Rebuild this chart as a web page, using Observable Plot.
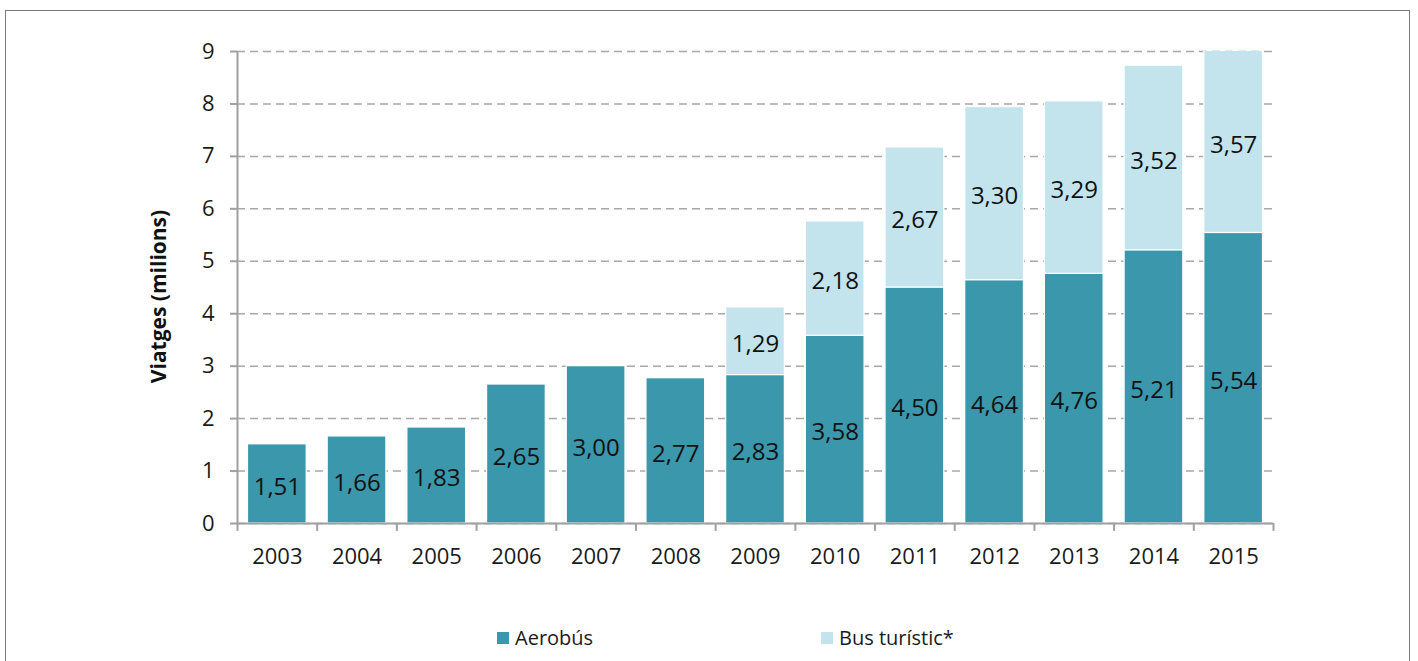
<!DOCTYPE html>
<html>
<head>
<meta charset="utf-8">
<script src="https://cdn.jsdelivr.net/npm/d3@7"></script>
<script src="https://cdn.jsdelivr.net/npm/@observablehq/plot@0.6"></script>
<style>
  body { margin: 0; background: #fff; font-family: "Open Sans", sans-serif; }
  #wrap { position: relative; width: 1418px; height: 661px; overflow: hidden; }
  #frame { position: absolute; left: 5px; top: 10px; width: 1405px; height: 700px; border: 1.5px solid #7a7a7a; box-sizing: border-box; }
  #chart { position: absolute; left: 0; top: 0; }
  #legend { position: absolute; top: 624px; left: 0; width: 1418px; font-size: 20px; color: #1a1a1a; }
  .item { position: absolute; display: flex; align-items: center; }
  .sw { width: 12px; height: 12px; margin-right: 6px; }
</style>
</head>
<body>
<div id="wrap">
  <div id="frame"></div>
  <div id="chart"></div>
  <div id="legend"></div>
</div>
<script>
const years = ["2003","2004","2005","2006","2007","2008","2009","2010","2011","2012","2013","2014","2015"];
const aerobus = [1.51,1.66,1.83,2.65,3.00,2.77,2.83,3.58,4.50,4.64,4.76,5.21,5.54];
const busTuristic = [null,null,null,null,null,null,1.29,2.18,2.67,3.30,3.29,3.52,3.57];
const seriesNames = ["Aerobús","Bus turístic*"];
const seriesColors = ["#3b97ab","#c4e4ed"];
const yTicks = [0,1,2,3,4,5,6,7,8,9];
const yLabel = "Viatges (milions)";
const yMax = 9;

const rows = [];
years.forEach((y, i) => {
  rows.push({year: y, series: seriesNames[0], value: aerobus[i], base: 0});
  if (busTuristic[i] != null) rows.push({year: y, series: seriesNames[1], value: busTuristic[i], base: aerobus[i]});
});
const labels = rows.map(r => {
  const lo = r.base, hi = Math.min(r.base + r.value, yMax);
  return {year: r.year, mid: (lo + hi) / 2, text: r.value.toFixed(2).replace(".", ",")};
});

const W = 1418, H = 600, mL = 237, mR = 145, mT = 51, mB = 77;
const step = (W - mL - mR) / years.length;

const chart = Plot.plot({
  width: W, height: H,
  marginLeft: mL, marginRight: mR, marginTop: mT, marginBottom: mB,
  style: {fontFamily: "Open Sans, sans-serif", fontSize: "22px", color: "#1a1a1a", background: "transparent", overflow: "visible"},
  x: {domain: years, padding: 0, round: false},
  y: {domain: [0, yMax]},
  color: {domain: seriesNames, range: seriesColors},
  marks: [
    Plot.gridY(yTicks, {stroke: "#a8a8a8", strokeOpacity: 1, strokeWidth: 1.5, strokeDasharray: "8,5"}),
    Plot.barY(rows, {x: "year", y1: "base", y2: d => d.base + d.value, fill: "series", insetLeft: 10.5, insetRight: 10.5, stroke: "white", strokeWidth: 1.2, clip: true}),
    Plot.ruleY([0], {stroke: "#a0a0a0", strokeWidth: 2}),
    Plot.ruleX([years[0]], {y1: 0, y2: yMax, dx: -step / 2, stroke: "#a0a0a0", strokeWidth: 2}),
    Plot.ruleX(years, {y1: 0, y2: -0.15, dx: -step / 2, stroke: "#a0a0a0", strokeWidth: 2}),
    Plot.ruleX([years[years.length - 1]], {y1: 0, y2: -0.15, dx: step / 2, stroke: "#a0a0a0", strokeWidth: 2}),
    Plot.axisY(yTicks, {tickSize: 7, tickPadding: 16, stroke: "#a0a0a0", strokeWidth: 2, label: null, tickFormat: d => String(d)}),
    Plot.axisX({tickSize: 0, tickPadding: 25, label: null}),
    Plot.text([yLabel], {frameAnchor: "left", rotate: -90, dx: -78, dy: 9, textAnchor: "middle", text: d => d, fontSize: 21, fontWeight: "bold", fill: "#111"}),
    Plot.text(labels, {x: "year", y: "mid", text: "text", fontSize: 24, fill: "#111", dy: 3})
  ]
});
document.getElementById("chart").appendChild(chart);

const legend = document.getElementById("legend");
const legendX = [497, 821];
seriesNames.forEach((name, i) => {
  const it = document.createElement("div");
  it.className = "item";
  it.style.left = legendX[i] + "px";
  it.innerHTML = `<div class="sw" style="background:${seriesColors[i]}"></div><span>${name}</span>`;
  legend.appendChild(it);
});
</script>
</body>
</html>
